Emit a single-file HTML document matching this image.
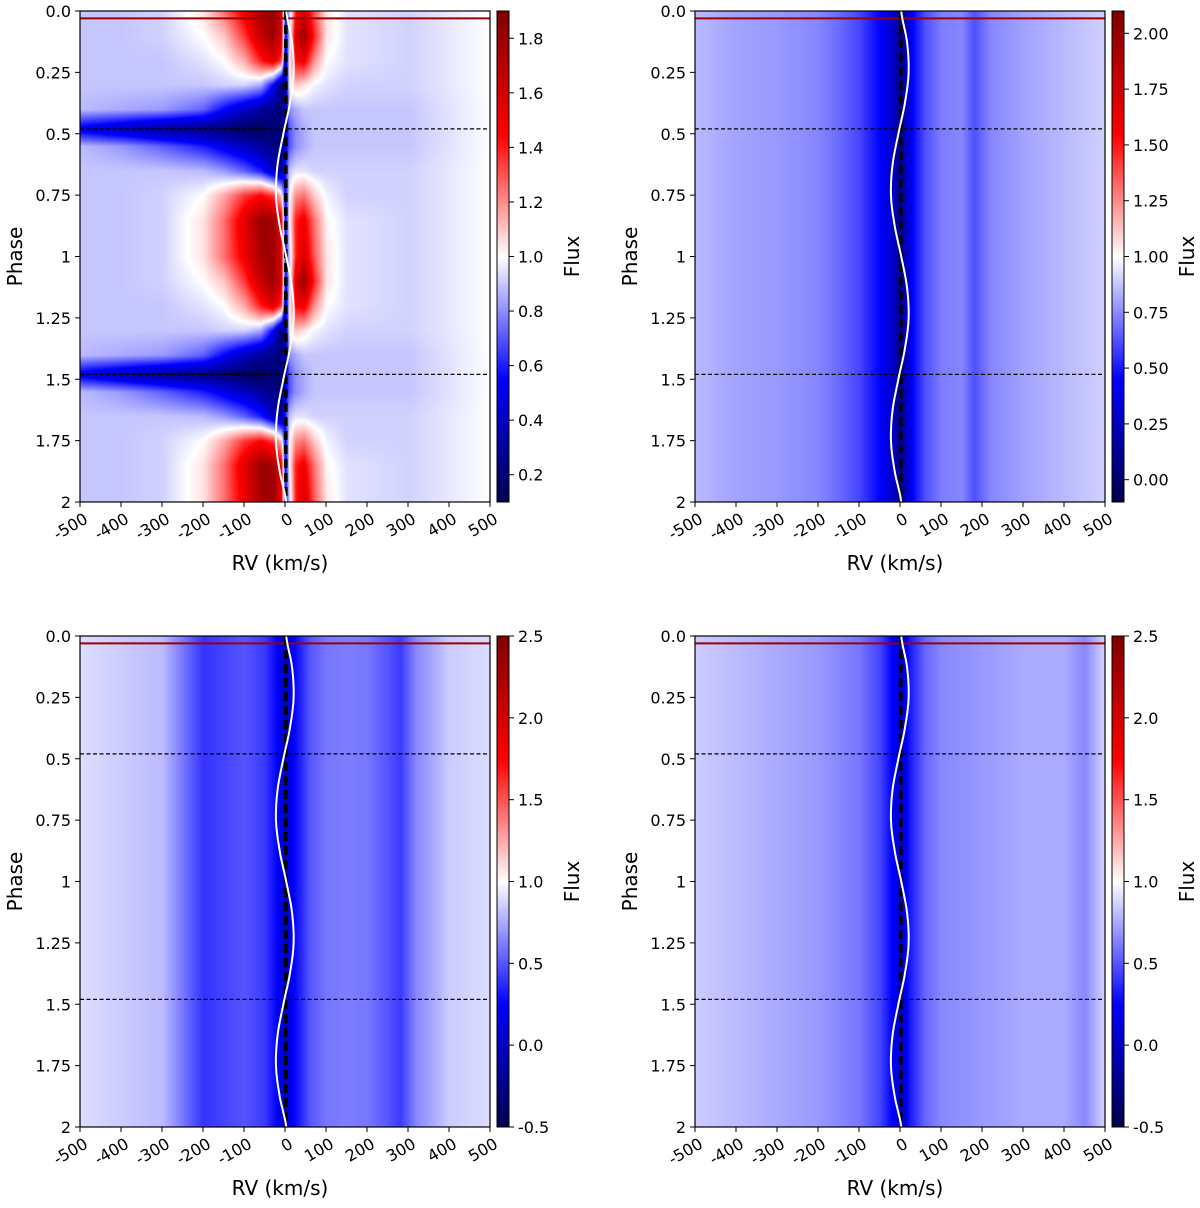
<!DOCTYPE html>
<html><head><meta charset="utf-8">
<style>
body{margin:0;background:#fff;width:1200px;height:1208px;overflow:hidden;position:relative;font-family:"DejaVu Sans","Liberation Sans",sans-serif}
canvas{position:absolute}
svg{position:absolute;left:0;top:0}
</style></head>
<body>
<canvas id="c0" width="410" height="491" style="left:80px;top:11px"></canvas>
<canvas id="c1" width="410" height="491" style="left:695px;top:11px"></canvas>
<canvas id="c2" width="410" height="491" style="left:80px;top:636px"></canvas>
<canvas id="c3" width="410" height="491" style="left:695px;top:636px"></canvas>
<canvas id="cb0" width="12" height="491" style="left:497px;top:11px"></canvas>
<canvas id="cb1" width="12" height="491" style="left:1112px;top:11px"></canvas>
<canvas id="cb2" width="12" height="491" style="left:497px;top:636px"></canvas>
<canvas id="cb3" width="12" height="491" style="left:1112px;top:636px"></canvas>
<svg id="ov" width="1200" height="1208" xmlns="http://www.w3.org/2000/svg"></svg>
<script>
// ---- data ----
const tlPhases=[0,0.1,0.2,0.3,0.4,0.48,0.55,0.65,0.75,0.85,1.0,1.1,1.2,1.3,1.4,1.48,1.55,1.65,1.75,1.85,2.0];
const tlKnots=[-500,-400,-300,-200,-150,-100,-60,-30,-10,0,10,25,45,70,100,150,300,500];
const tlRowA=[0.9,0.9,0.92,1.05,1.25,1.5,1.75,1.8,1.55,0.6,0.9,1.4,1.6,1.3,1.05,0.95,0.92,1.0];
const tlRowB=[0.9,0.9,0.92,1.0,1.1,1.35,1.65,1.8,1.6,0.5,0.9,1.6,1.8,1.4,1.05,0.95,0.92,1.0];
const tlRowC=[0.9,0.9,0.9,0.95,1.0,1.15,1.4,1.55,1.35,0.3,1.0,1.45,1.5,1.2,1.0,0.95,0.92,1.0];
const tlRowD=[0.9,0.9,0.9,0.9,0.92,0.92,0.85,0.55,0.2,0.3,1.0,1.1,1.05,0.98,0.95,0.92,0.92,1.0];
const tlRowE=[0.88,0.85,0.82,0.72,0.55,0.4,0.3,0.25,0.2,0.4,0.8,0.85,0.9,0.9,0.9,0.9,0.9,1.0];
const tlRowF=[0.5,0.4,0.3,0.25,0.2,0.15,0.15,0.2,0.2,0.5,0.7,0.8,0.85,0.9,0.9,0.9,0.9,1.0];
const tlRowG=[0.88,0.82,0.72,0.6,0.5,0.4,0.3,0.25,0.2,0.5,0.7,0.8,0.85,0.9,0.9,0.9,0.9,1.0];
const tlRowH=[0.9,0.9,0.9,0.88,0.82,0.72,0.6,0.4,0.3,0.6,0.9,0.95,0.95,0.92,0.92,0.92,0.92,1.0];
const tlRowI=[0.9,0.9,0.92,1.0,1.15,1.35,1.45,1.35,1.1,0.5,1.0,1.2,1.25,1.1,0.98,0.92,0.92,1.0];
const tlRowJ=[0.9,0.9,0.92,1.05,1.25,1.55,1.8,1.8,1.5,0.5,1.0,1.4,1.5,1.25,1.02,0.95,0.92,1.0];
const trKnots=[-500,-400,-300,-200,-150,-100,-50,-20,0,10,30,60,100,150,180,220,300,400,500];
const trFlux=[0.85,0.8,0.78,0.74,0.68,0.6,0.45,0.3,0.05,0.2,0.45,0.62,0.72,0.74,0.62,0.74,0.8,0.85,0.9];
const blKnots=[-500,-400,-300,-250,-200,-150,-100,-50,-20,0,20,60,100,150,200,250,280,320,400,500];
const blFlux=[0.9,0.85,0.8,0.6,0.4,0.45,0.5,0.42,0.25,0.0,0.25,0.5,0.6,0.62,0.6,0.5,0.42,0.65,0.85,0.9];
const brKnots=[-500,-400,-300,-200,-100,-50,-20,0,20,60,100,200,300,400,450,500];
const brFlux=[0.85,0.8,0.75,0.7,0.6,0.45,0.25,0.0,0.3,0.55,0.65,0.7,0.75,0.75,0.65,0.88];
const curvePhase=[0,0.125,0.25,0.375,0.5,0.625,0.75,0.875,1,1.125,1.25,1.375,1.5,1.625,1.75,1.875,2];
const curveRV=[3,17,21,12,-4,-18,-22,-13,3,17,21,12,-4,-18,-22,-13,3];
const yTicks=[0,0.25,0.5,0.75,1,1.25,1.5,1.75,2];
const yTickLabels=["0.0","0.25","0.5","0.75","1","1.25","1.5","1.75","2"];
const xTicks=[-500,-400,-300,-200,-100,0,100,200,300,400,500];
const cb0Ticks=[0.2,0.4,0.6,0.8,1.0,1.2,1.4,1.6,1.8];
const cb1Ticks=[0,0.25,0.5,0.75,1,1.25,1.5,1.75,2];
const cb1Labels=["0.00","0.25","0.50","0.75","1.00","1.25","1.50","1.75","2.00"];
const cb2Ticks=[-0.5,0,0.5,1,1.5,2,2.5];
const hLines=[0.48,1.48];
const redLine=0.03;

const tlRows=[tlRowA,tlRowB,tlRowC,tlRowD,tlRowE,tlRowF,tlRowG,tlRowH,tlRowI,tlRowJ,tlRowA,tlRowB,tlRowC,tlRowD,tlRowE,tlRowF,tlRowG,tlRowH,tlRowI,tlRowJ,tlRowA];

// ---- helpers ----
const W=410,H=491;
function xs(rv){return (rv+500)/1000*W;}
function ys(p){return p/2*H;}
function seismic(t){t=Math.max(0,Math.min(1,t));let r,g,b;
 if(t<0.25){r=0;g=0;b=0.3+t/0.25*0.7;}
 else if(t<0.5){r=g=(t-0.25)/0.25;b=1;}
 else if(t<0.75){r=1;g=b=1-(t-0.5)/0.25;}
 else {r=1-0.5*(t-0.75)/0.25;g=b=0;}
 return [r*255,g*255,b*255];}
function interp(kn,vals,x){if(x<=kn[0])return vals[0];for(let i=1;i<kn.length;i++){if(x<=kn[i]){const f=(x-kn[i-1])/(kn[i]-kn[i-1]);return vals[i-1]+f*(vals[i]-vals[i-1]);}}return vals[vals.length-1];}
function drawHeat(id,fn,vmin,vmax){const c=document.getElementById(id).getContext('2d');const im=c.createImageData(W,H);
 for(let y=0;y<H;y++){const p=y/H*2;for(let x=0;x<W;x++){const rv=x/W*1000-500;const v=fn(rv,p);const col=seismic((v-vmin)/(vmax-vmin));const k=(y*W+x)*4;im.data[k]=col[0];im.data[k+1]=col[1];im.data[k+2]=col[2];im.data[k+3]=255;}}
 c.putImageData(im,0,0);}
function drawCb(id){const c=document.getElementById(id).getContext('2d');for(let y=0;y<H;y++){const col=seismic(1-y/H);c.fillStyle=`rgb(${col[0]|0},${col[1]|0},${col[2]|0})`;c.fillRect(0,y,12,1);}}

drawHeat('c0',(rv,p)=>{let i=1;while(i<tlPhases.length-1&&p>tlPhases[i])i++;const f=(p-tlPhases[i-1])/(tlPhases[i]-tlPhases[i-1]);return interp(tlKnots,tlRows[i-1],rv)*(1-f)+interp(tlKnots,tlRows[i],rv)*f;},0.1,1.9);
drawHeat('c1',(rv,p)=>interp(trKnots,trFlux,rv),-0.1,2.1);
drawHeat('c2',(rv,p)=>interp(blKnots,blFlux,rv),-0.5,2.5);
drawHeat('c3',(rv,p)=>interp(brKnots,brFlux,rv),-0.5,2.5);
['cb0','cb1','cb2','cb3'].forEach(drawCb);

const NS="http://www.w3.org/2000/svg";const svg=document.getElementById('ov');
function mk(tag,attrs,parent){const e=document.createElementNS(NS,tag);for(const k in attrs)e.setAttribute(k,attrs[k]);(parent||svg).appendChild(e);return e;}
function curveAt(p){let i=1;while(i<curvePhase.length-1&&p>curvePhase[i])i++;
 const n=curveRV.length;const p0=curveRV[Math.max(0,i-2)],p1=curveRV[i-1],p2=curveRV[i],p3=curveRV[Math.min(n-1,i+1)];
 const t=(p-curvePhase[i-1])/(curvePhase[i]-curvePhase[i-1]);
 return 0.5*((2*p1)+(-p0+p2)*t+(2*p0-5*p1+4*p2-p3)*t*t+(-p0+3*p1-3*p2+p3)*t*t*t);}

const panels=[{ox:80,oy:11,cb:[0.1,1.9],ct:cb0Ticks,cl:cb0Ticks.map(v=>v.toFixed(1)),n:'top-left'},
 {ox:695,oy:11,cb:[-0.1,2.1],ct:cb1Ticks,cl:cb1Labels,n:'top-right'},
 {ox:80,oy:636,cb:[-0.5,2.5],ct:cb2Ticks,cl:cb2Ticks.map(v=>v.toFixed(1)),n:'bottom-left'},
 {ox:695,oy:636,cb:[-0.5,2.5],ct:cb2Ticks,cl:cb2Ticks.map(v=>v.toFixed(1)),n:'bottom-right'}];

panels.forEach(P=>{
 const g=mk('g',{transform:`translate(${P.ox},${P.oy})`});
 
 
 const rl=mk('line',{x1:0,x2:W,y1:ys(redLine),y2:ys(redLine),stroke:'#9b0000','stroke-width':2},g);
 
 
 hLines.forEach(h=>{const l=mk('line',{x1:0,x2:W,y1:ys(h),y2:ys(h),stroke:'#000','stroke-width':1.3,'stroke-dasharray':'4,2.5'},g);
  
  });
 const vl=mk('line',{x1:xs(2),x2:xs(2),y1:0,y2:H,stroke:'#000','stroke-width':3.5,'stroke-dasharray':'9,5'},g);
 
 
 let d='';for(let s=0;s<=400;s++){const p=s/200;const rv=curveAt(p);d+=(s?'L':'M')+xs(rv).toFixed(1)+','+ys(p).toFixed(1);}
 const cv=mk('path',{d:d,fill:'none',stroke:'#fff','stroke-width':2},g);
 
 
 const fr=mk('rect',{x:0,y:0,width:W,height:H,fill:'none',stroke:'#000','stroke-width':1.2},g);
 
 
 yTicks.forEach((t,i)=>{mk('line',{x1:-5,x2:0,y1:ys(t),y2:ys(t),stroke:'#000'},g);
  const tx=mk('text',{x:-9,y:ys(t)+6,'text-anchor':'end','font-size':16},g);tx.textContent=yTickLabels[i];
  
  });
 xTicks.forEach(t=>{mk('line',{x1:xs(t),x2:xs(t),y1:H,y2:H+5,stroke:'#000'},g);
  const tx=mk('text',{x:0,y:0,'text-anchor':'end','font-size':16,transform:`translate(${xs(t)+9},${H+20}) rotate(-30)`},g);tx.textContent=String(t);
  
  });
 const xl=mk('text',{x:W/2-5,y:H+68,'text-anchor':'middle','font-size':20},g);xl.textContent='RV (km/s)';
 
 
 const yl=mk('text',{x:0,y:0,'text-anchor':'middle','font-size':20,transform:`translate(-58,${H/2}) rotate(-90)`},g);yl.textContent='Phase';
 
 
 const cbx=W+7;
 mk('rect',{x:cbx,y:0,width:12,height:H,fill:'none',stroke:'#000','stroke-width':1},g);
 P.ct.forEach((t,i)=>{const y=H-(t-P.cb[0])/(P.cb[1]-P.cb[0])*H;mk('line',{x1:cbx+12,x2:cbx+17,y1:y,y2:y,stroke:'#000'},g);
  const tx=mk('text',{x:cbx+21,y:y+6,'font-size':16},g);tx.textContent=P.cl[i];
  
  });
 const fl=mk('text',{x:0,y:0,'text-anchor':'middle','font-size':20,transform:`translate(${cbx+82},${H/2}) rotate(-90)`},g);fl.textContent='Flux';
 
 
});
</script>
</body></html>
